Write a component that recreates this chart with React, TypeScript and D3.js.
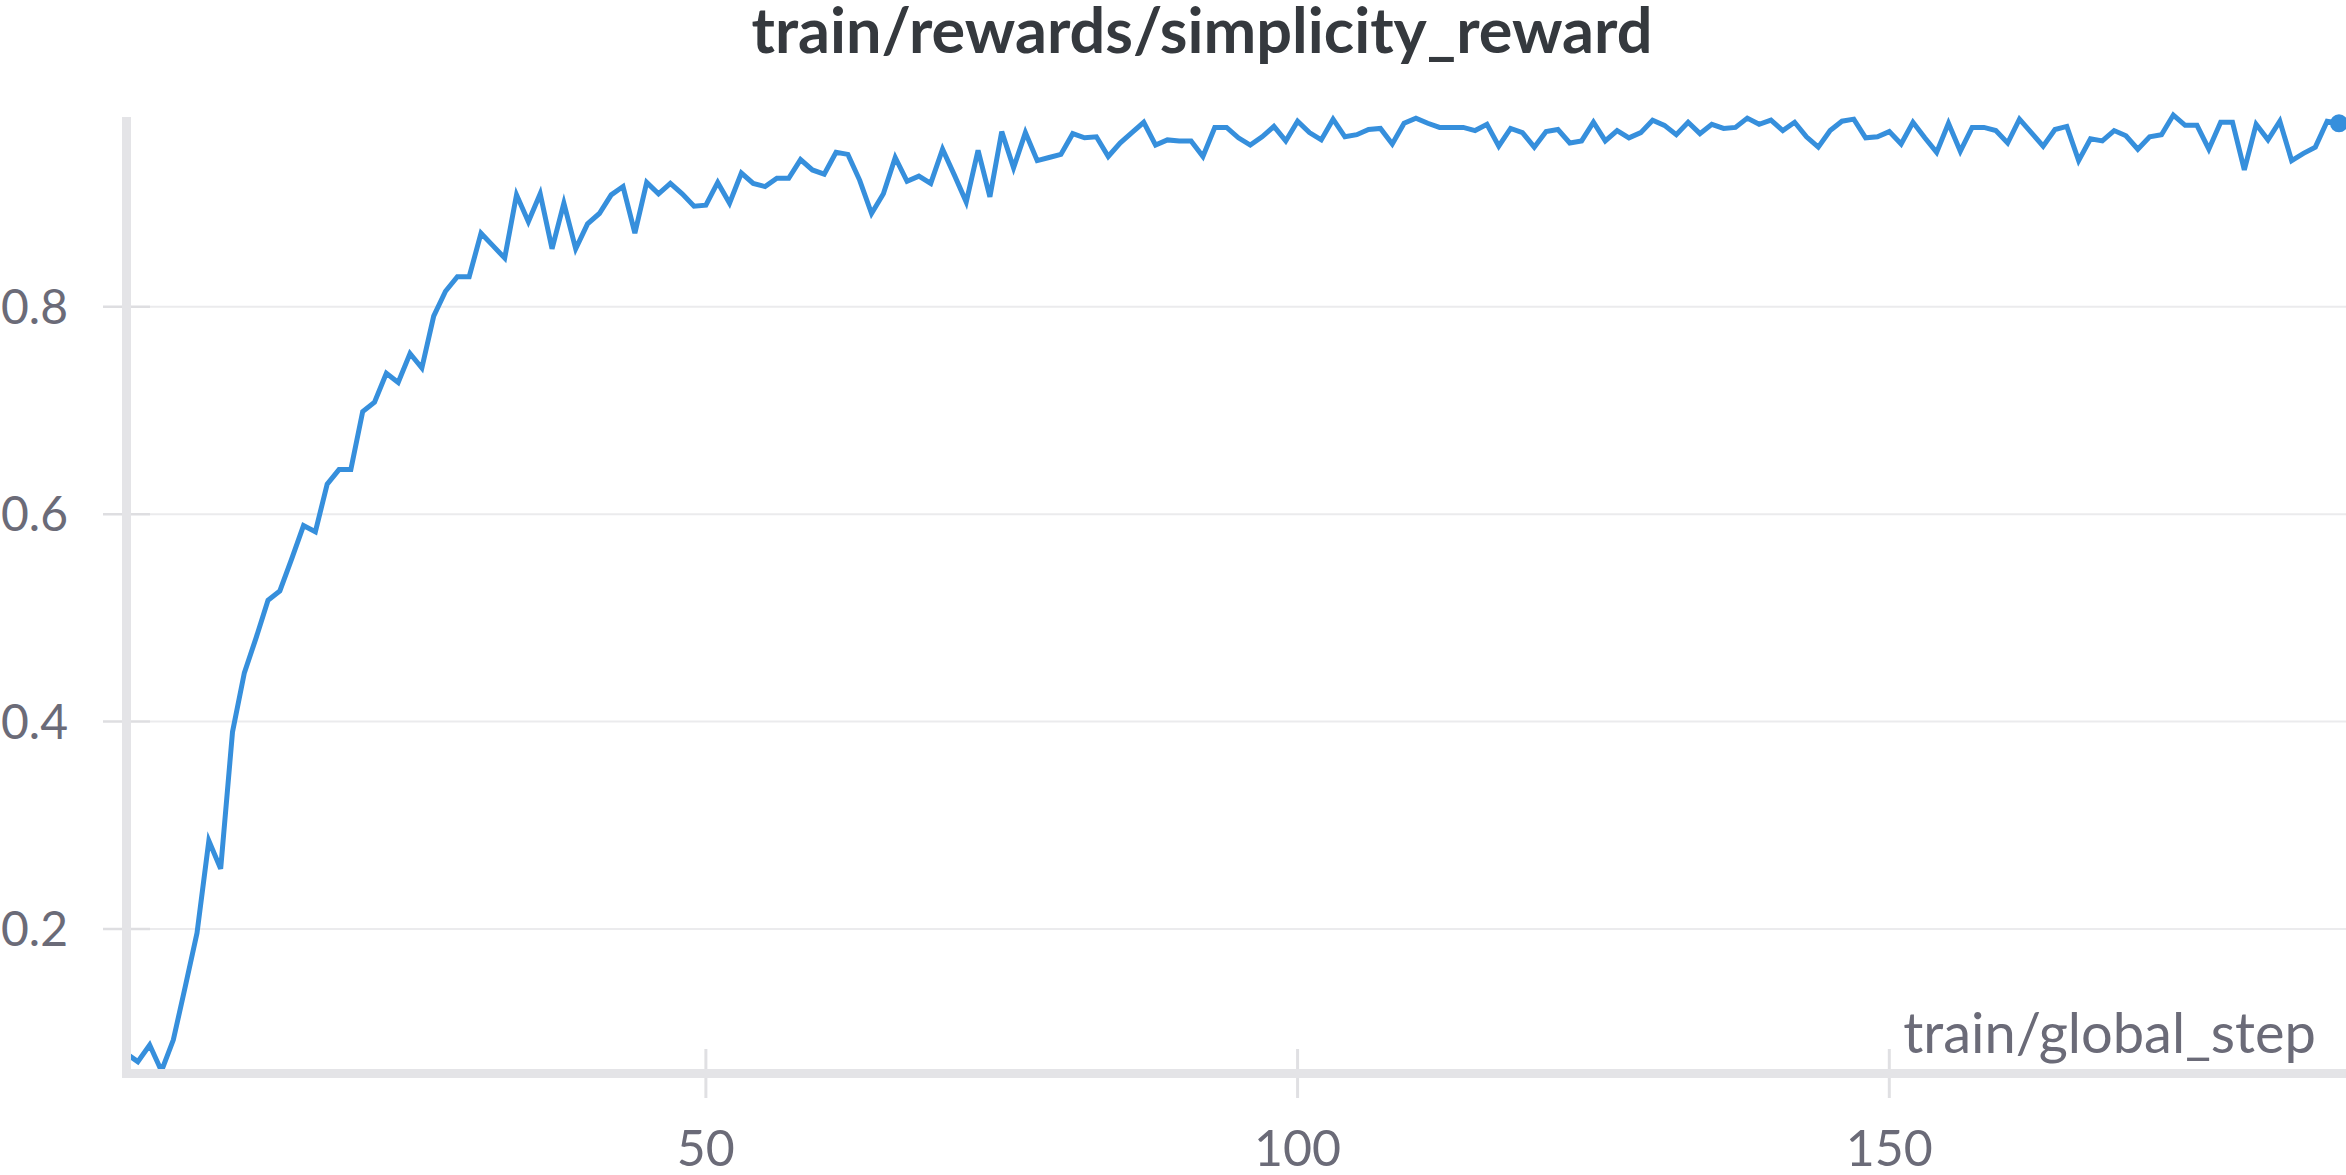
import React from 'react'
import * as d3 from 'd3'

const WIDTH = 2346
const HEIGHT = 1175

const TITLE = 'train/rewards/simplicity_reward'
const X_LABEL = 'train/global_step'

// simplicity reward for global steps 1..188
const rewards = [
    0.080, 0.072, 0.088, 0.063, 0.093, 0.144, 0.196, 0.285, 0.258, 0.390,
    0.447, 0.481, 0.517, 0.526, 0.557, 0.589, 0.583, 0.629, 0.643, 0.643,
    0.699, 0.708, 0.736, 0.727, 0.755, 0.741, 0.791, 0.815, 0.829, 0.829,
    0.871, 0.859, 0.847, 0.908, 0.882, 0.909, 0.856, 0.900, 0.856, 0.880,
    0.890, 0.908, 0.916, 0.871, 0.920, 0.909, 0.919, 0.909, 0.897, 0.898,
    0.920, 0.900, 0.929, 0.919, 0.916, 0.924, 0.924, 0.942, 0.932, 0.928,
    0.949, 0.947, 0.922, 0.890, 0.909, 0.944, 0.921, 0.926, 0.919, 0.952,
    0.927, 0.901, 0.951, 0.906, 0.969, 0.934, 0.968, 0.941, 0.944, 0.947,
    0.967, 0.963, 0.964, 0.945, 0.958, 0.968, 0.978, 0.956, 0.961, 0.960,
    0.960, 0.945, 0.973, 0.973, 0.963, 0.956, 0.964, 0.974, 0.960, 0.979,
    0.968, 0.961, 0.981, 0.964, 0.966, 0.971, 0.972, 0.957, 0.977, 0.982,
    0.977, 0.973, 0.973, 0.973, 0.970, 0.976, 0.955, 0.972, 0.968, 0.954,
    0.969, 0.971, 0.958, 0.960, 0.978, 0.960, 0.970, 0.963, 0.968, 0.980,
    0.975, 0.966, 0.978, 0.967, 0.976, 0.972, 0.973, 0.982, 0.976, 0.980,
    0.970, 0.978, 0.964, 0.954, 0.970, 0.979, 0.981, 0.963, 0.964, 0.969,
    0.957, 0.978, 0.963, 0.949, 0.977, 0.950, 0.973, 0.973, 0.970, 0.958,
    0.981, 0.968, 0.955, 0.971, 0.974, 0.941, 0.962, 0.960, 0.970, 0.965,
    0.952, 0.964, 0.966, 0.985, 0.975, 0.975, 0.952, 0.978, 0.978, 0.932,
    0.976, 0.961, 0.979, 0.941, 0.948, 0.954, 0.979, 0.977
]
const steps = rewards.map((_, i) => i + 1)

const xTicks = [50, 100, 150]
const yTicks = [0.2, 0.4, 0.6, 0.8]

const LINE_COLOR = '#368fdc'
const AXIS_COLOR = '#e4e4e7'
const TEXT_COLOR = '#6b6b78'
const FONT = '"Source Sans Pro", Lato, sans-serif'

const x = d3.scaleLinear().domain(d3.extent(steps) as [number, number]).range([126, 2339])
const y = d3.scaleLinear().domain(d3.extent(rewards) as [number, number]).range([1071, 115])

const Title = () => {
    const props = {
        x: 1202,
        y: 53,
        textAnchor: 'middle',
        fill: '#35393e',
        style: { fontFamily: FONT, fontWeight: 700, fontSize: '63px' }
    }
    return <text {...props}>{TITLE}</text>
}

const YGrid = () => (
    <g>
        {yTicks.map(t => (
            <g key={t}>
                <line x1={150} x2={WIDTH} y1={y(t)} y2={y(t)} stroke="#ebebed" strokeWidth={2} />
                <line x1={103} x2={150} y1={y(t)} y2={y(t)} stroke="#dedee1" strokeWidth={2.5} />
                <text x={68} y={y(t)} dy="0.36em" textAnchor="end" fill={TEXT_COLOR}
                      style={{ fontFamily: FONT, fontSize: '48px' }}>
                    {d3.format('.1f')(t)}
                </text>
            </g>
        ))}
    </g>
)

const XTicks = () => (
    <g>
        {xTicks.map(t => (
            <g key={t}>
                <line x1={x(t)} x2={x(t)} y1={1049} y2={1098} stroke="#e0e0e3" strokeWidth={3} />
                <text x={x(t)} y={1166} textAnchor="middle" fill={TEXT_COLOR}
                      style={{ fontFamily: FONT, fontSize: '50px' }}>
                    {t}
                </text>
            </g>
        ))}
        <text x={2316} y={1053} textAnchor="end" fill={TEXT_COLOR}
              style={{ fontFamily: FONT, fontSize: '56px' }}>
            {X_LABEL}
        </text>
    </g>
)

const Axes = () => (
    <g fill={AXIS_COLOR}>
        <rect x={122} y={117} width={9} height={1078 - 117} />
        <rect x={126} y={1069} width={WIDTH - 126} height={9} />
    </g>
)

const RewardLine = () => {
    const line = d3.line<number>()
        .x((d, i) => x(steps[i]))
        .y(d => y(d))
    const last = rewards.length - 1
    return (
        <g>
            <path d={line(rewards) || ''} fill="none" stroke={LINE_COLOR} strokeWidth={5} />
            <circle cx={x(steps[last])} cy={y(rewards[last])} r={9} fill={LINE_COLOR} />
        </g>
    )
}

export default function App() {
    return (
        <div>
            <style>{'body{margin:0;overflow:hidden;background:#fff}'}</style>
            <svg width={WIDTH} height={HEIGHT} style={{ display: 'block' }}>
                <Title />
                <YGrid />
                <XTicks />
                <RewardLine />
                <Axes />
            </svg>
        </div>
    )
}
